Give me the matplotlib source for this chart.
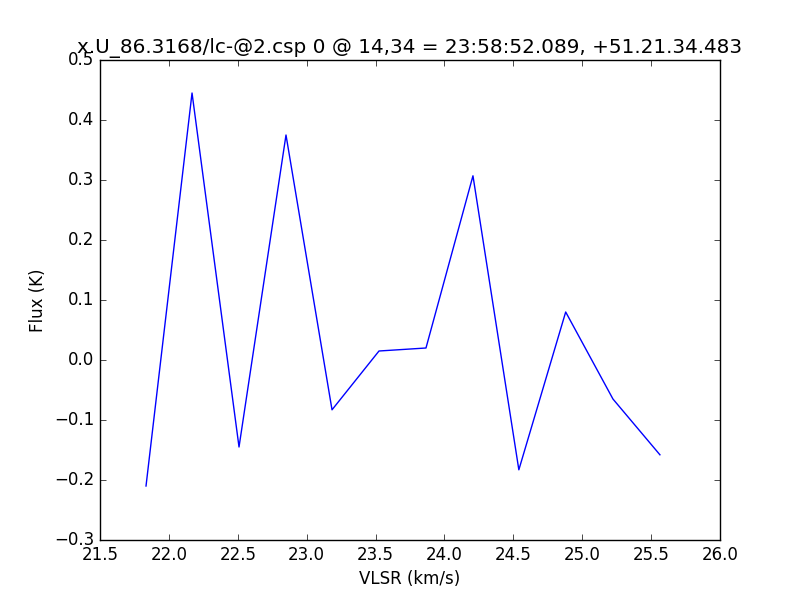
import matplotlib
matplotlib.use('Agg')
import matplotlib.pyplot as plt

# 速度軸とフラックス
vlsr = [21.834, 22.168, 22.509, 22.850, 23.184, 23.525,
        23.866, 24.207, 24.540, 24.880, 25.223, 25.564]
flux = [-0.210, 0.445, -0.145, 0.375, -0.083, 0.015,
        0.020, 0.307, -0.183, 0.080, -0.065, -0.158]

title = 'x.U_86.3168/lc-@2.csp 0 @ 14,34 = 23:58:52.089, +51.21.34.483'

plt.style.use('classic')
fig = plt.figure(figsize=(8, 6), dpi=100, facecolor='white')
ax = fig.add_axes([0.125, 0.1, 0.775, 0.8])

ax.plot(vlsr, flux, color='blue', linewidth=1)
ax.set_xlim(21.5, 26.0)
ax.set_ylim(-0.3, 0.5)
ax.set_xlabel('VLSR (km/s)')
ax.set_ylabel('Flux (K)')
ax.set_title(title)

fig.savefig('out.png', dpi=100, facecolor='white')
